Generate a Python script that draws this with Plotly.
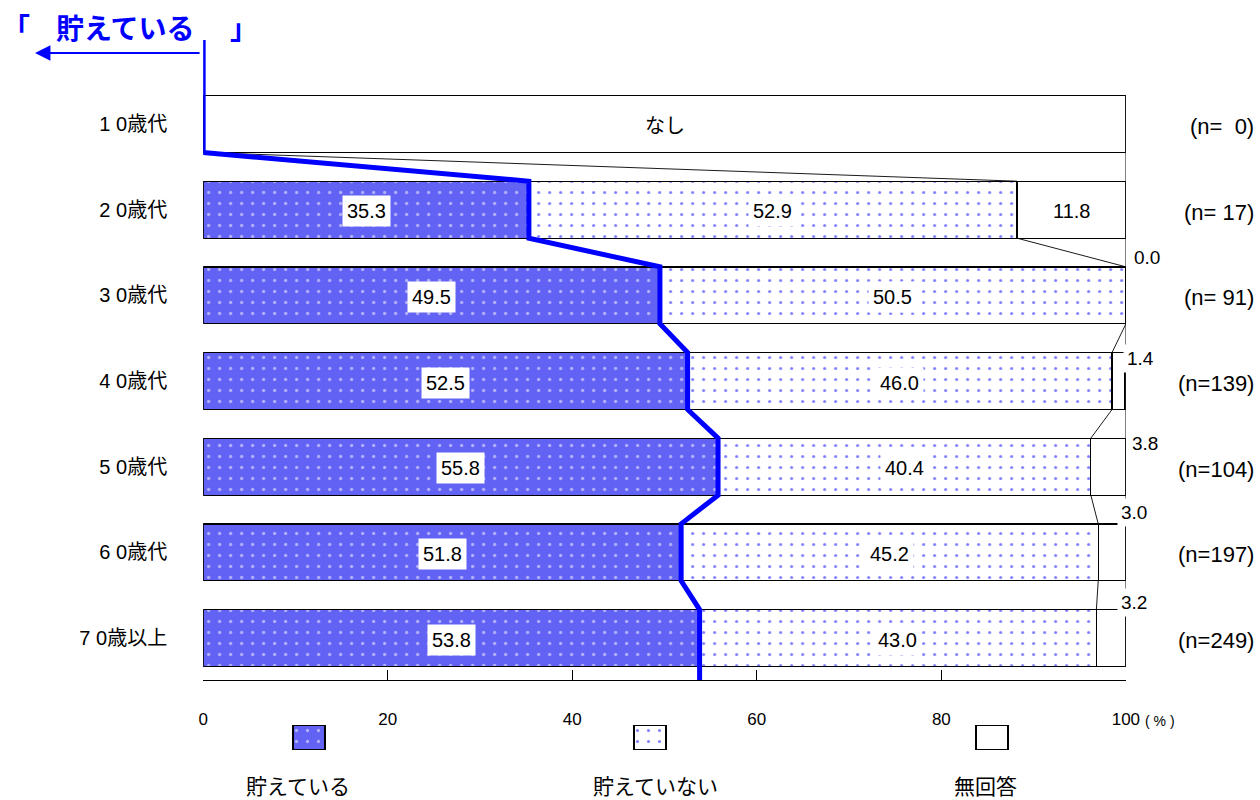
import plotly.graph_objects as go

# data
ages = ["1 0歳代", "2 0歳代", "3 0歳代", "4 0歳代", "5 0歳代", "6 0歳代", "7 0歳以上"]
n_labels = ["(n=\u00a0\u00a00)", "(n=\u00a017)", "(n=\u00a091)", "(n=139)", "(n=104)", "(n=197)", "(n=249)"]
saving = [None, 35.3, 49.5, 52.5, 55.8, 51.8, 53.8]          # 貯えている
not_saving = [None, 52.9, 50.5, 46.0, 40.4, 45.2, 43.0]      # 貯えていない
no_answer = [None, 11.8, 0.0, 1.4, 3.8, 3.0, 3.2]            # 無回答
empty_label = "なし"
series_names = ["貯えている", "貯えていない", "無回答"]
x_ticks = [0, 20, 40, 60, 80, 100]
header = "貯えている"

FONT = "Liberation Sans, Arial, Noto Sans CJK JP"
JP = "Noto Sans CJK JP, Liberation Sans"
BLUE = "#0000FF"
FILL_SAVE = "#6262f4"

W, H = 1260, 800
# the page renders the paper slightly narrower than the window; map screen px -> paper fraction
PAPER_OFF, PAPER_W = 5, 1240


def fx(px):
    return (px - PAPER_OFF) / PAPER_W


def fy(py):
    return 1 - py / H


X0, X1 = 203, 1125           # plot area left/right in px
ROW0, ROW_STEP = 124, 85.67  # first row centre, row spacing in px
PLOT_BOTTOM = 680


def row_at(py):
    return (py - ROW0) / ROW_STEP


y_top = row_at(0)
y_bottom = row_at(PLOT_BOTTOM)
bar_w = 0.665
h = bar_w / 2
pos = list(range(len(ages)))

pat_save = dict(shape=".", fgcolor="white", size=11, solidity=0.07, fillmode="overlay")
pat_not = dict(shape=".", fgcolor="#0000ff", size=11, solidity=0.06, fillmode="overlay")
edge = dict(color="black", width=1.3)

fig = go.Figure()

fig.add_trace(go.Bar(y=pos, x=saving, orientation="h", width=bar_w, name=series_names[0],
                     marker=dict(color=FILL_SAVE, pattern=pat_save, line=edge)))
fig.add_trace(go.Bar(y=pos, x=not_saving, orientation="h", width=bar_w, name=series_names[1],
                     marker=dict(color="white", pattern=pat_not, line=edge)))
fig.add_trace(go.Bar(y=pos, x=no_answer, orientation="h", width=bar_w, name=series_names[2],
                     marker=dict(color="white", line=edge)))
# row with no respondents
empty_rows = [i for i, v in enumerate(saving) if v is None]
fig.add_trace(go.Bar(y=empty_rows, x=[100] * len(empty_rows), orientation="h", width=bar_w,
                     marker=dict(color="white", line=edge)))


# boundaries per row
def bounds(i):
    if saving[i] is None:
        return [0, 0, 100]
    return [saving[i], saving[i] + not_saving[i], 100]


cx, cy = [], []
for i in range(len(ages) - 1):
    b0, b1 = bounds(i), bounds(i + 1)
    for k in range(3):
        cx += [b0[k], b1[k], None]
        cy += [i + h, i + 1 - h, None]
fig.add_trace(go.Scatter(x=cx, y=cy, mode="lines", line=dict(color="black", width=0.9),
                         hoverinfo="skip"))

# blue 貯えている line
bx = [0, 0]
by = [row_at(40), 0 + h]
for i in range(1, len(ages)):
    b = bounds(i)[0]
    bx += [b, b]
    by += [i - h, i + h]
by[-1] = y_bottom
fig.add_trace(go.Scatter(x=bx, y=by, mode="lines", line=dict(color=BLUE, width=5),
                         hoverinfo="skip"))

annotations = []
# values inside bars
for i in pos:
    if saving[i] is None:
        annotations.append(dict(x=50, y=i, text=empty_label, showarrow=False,
                                font=dict(size=20, family=JP)))
        continue
    start = 0
    for v in (saving[i], not_saving[i], no_answer[i]):
        if v >= 5:
            annotations.append(dict(x=start + v / 2, y=i + 0.02, text=f"{v:.1f}", showarrow=False,
                                    bgcolor="white", borderpad=4, font=dict(size=20)))
        start += v

# small 無回答 values placed outside the bars (text box left px, vertical offset)
outside_place = {2: (1129, -0.447), 3: (1122, -0.257), 4: (1127, -0.265),
                 5: (1116, -0.471), 6: (1116, -0.42)}
for i, (px, dy) in outside_place.items():
    annotations.append(dict(x=fx(px), xref="paper", y=i + dy, text=f"{no_answer[i]:.1f}",
                            showarrow=False, xanchor="left", yanchor="middle",
                            bgcolor="white", borderpad=3, font=dict(size=19)))

# n labels
for i in pos:
    annotations.append(dict(x=fx(1255), xref="paper", y=i + 0.03, text=n_labels[i],
                            showarrow=False, xanchor="right", yanchor="middle",
                            font=dict(size=22)))

# header 「 貯えている 」 and arrow
head_font = dict(size=28, color=BLUE, family=JP)
annotations.append(dict(x=fx(1), y=fy(27), xref="paper", yref="paper", xanchor="left",
                        yanchor="middle", text="<b>「</b>", showarrow=False, borderpad=0,
                        font=head_font))
annotations.append(dict(x=fx(125), y=fy(27), xref="paper", yref="paper", xanchor="center",
                        yanchor="middle", text=f"<b>{header}</b>", showarrow=False, font=head_font))
annotations.append(dict(x=fx(228), y=fy(27), xref="paper", yref="paper", xanchor="left",
                        yanchor="middle", text="<b>」</b>", showarrow=False, font=head_font))
annotations.append(dict(x=fx(35), y=fy(53), xref="paper", yref="paper", text="",
                        showarrow=True, ax=166, ay=0, arrowhead=2, arrowsize=1.4,
                        arrowwidth=2.2, arrowcolor=BLUE))
annotations.append(dict(x=fx(1142), y=fy(721), xref="paper", yref="paper", xanchor="left",
                        yanchor="middle", text="(\u00a0%\u00a0)", showarrow=False,
                        font=dict(size=14)))

# legend swatches on a separate small axis (x values are screen px)
sw_x = [309, 649, 991]
lab_x = [298, 655, 985]
fig.add_trace(go.Bar(x=[sw_x[0]], y=[1], width=32, xaxis="x2", yaxis="y2",
                     marker=dict(color=FILL_SAVE, pattern=pat_save, line=dict(color="black", width=2))))
fig.add_trace(go.Bar(x=[sw_x[1]], y=[1], width=32, xaxis="x2", yaxis="y2",
                     marker=dict(color="white", pattern=pat_not, line=dict(color="black", width=2))))
fig.add_trace(go.Bar(x=[sw_x[2]], y=[1], width=32, xaxis="x2", yaxis="y2",
                     marker=dict(color="white", line=dict(color="black", width=2))))
for name, lx in zip(series_names, lab_x):
    annotations.append(dict(x=fx(lx), y=fy(785), xref="paper", yref="paper", text=name,
                            xanchor="center", yanchor="middle", showarrow=False,
                            font=dict(size=21, family=JP)))

fig.update_layout(
    width=W, height=H,
    margin=dict(l=0, r=0, t=0, b=0),
    barmode="stack",
    showlegend=False,
    plot_bgcolor="white",
    paper_bgcolor="white",
    font=dict(family=FONT, color="black"),
    annotations=annotations,
    xaxis=dict(domain=[fx(X0), fx(X1)], range=[0, 100], tickvals=x_ticks,
               ticks="inside", ticklen=10, tickcolor="black", showline=True, linecolor="black",
               linewidth=1, showgrid=False, zeroline=False, ticklabelstandoff=24,
               tickfont=dict(size=17)),
    yaxis=dict(domain=[fy(PLOT_BOTTOM), 1], range=[y_bottom, y_top], tickvals=pos,
               ticktext=ages, ticks="", showline=False, showgrid=False, zeroline=False,
               ticklabelstandoff=35, tickfont=dict(size=20, family=FONT)),
    xaxis2=dict(domain=[0, 1], range=[PAPER_OFF, PAPER_OFF + PAPER_W], visible=False, anchor="y2"),
    yaxis2=dict(domain=[fy(750), fy(725)], range=[0, 1], visible=False, anchor="x2"),
)

fig.write_html(
    "out.html",
    config={"displayModeBar": False},
    post_script="document.body.style.margin='0';"
                "document.body.style.overflow='hidden';"
                "document.documentElement.style.overflow='hidden';",
)
